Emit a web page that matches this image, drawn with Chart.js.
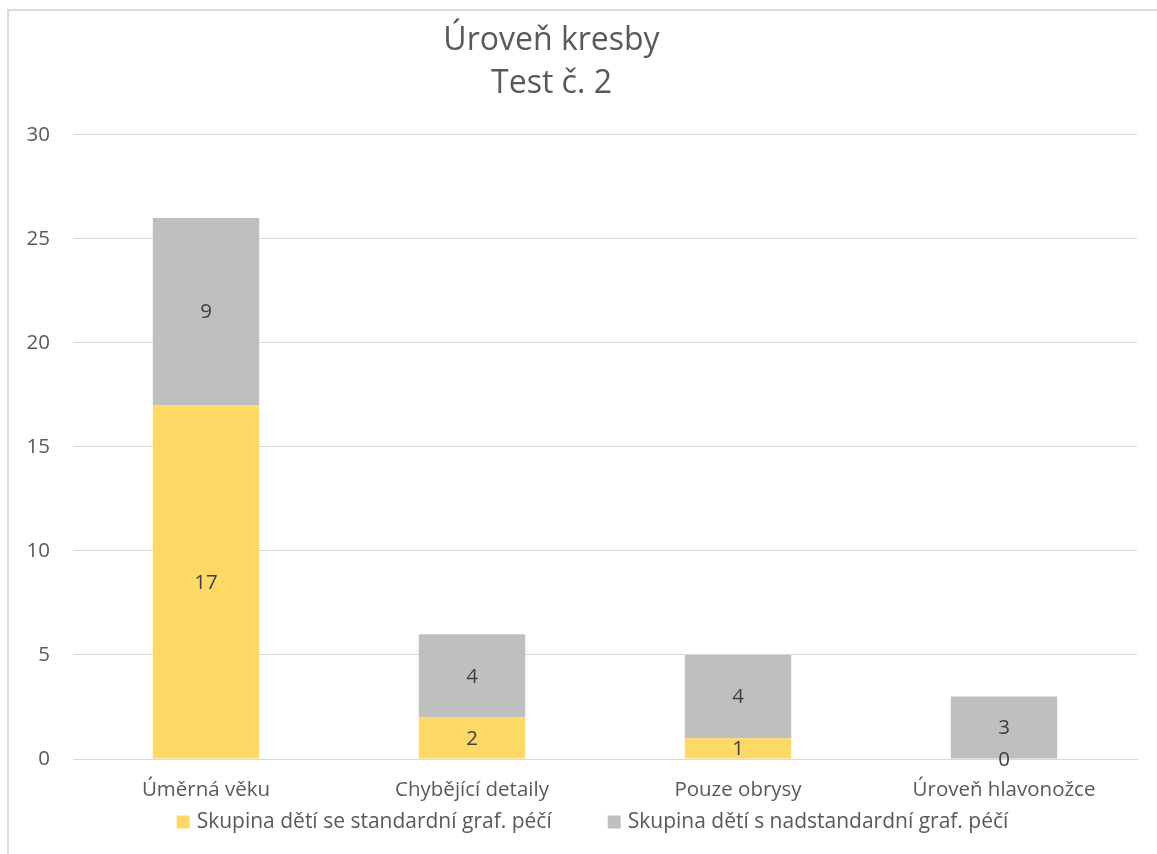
<!DOCTYPE html>
<html>
<head>
<meta charset="utf-8">
<script src="https://cdn.jsdelivr.net/npm/chart.js@4"></script>
<style>
  html, body { margin: 0; padding: 0; background: #fff; overflow: hidden; }
  #wrap { position: absolute; left: 0; top: 0; width: 1157px; height: 854px; }
  #frame { position: absolute; left: 7px; top: 9px; width: 1170px; height: 870px; border: 2px solid #DCDCDC; box-sizing: border-box; }
  canvas { position: absolute; left: 0; top: 0; }
</style>
</head>
<body>
<div id="wrap">
  <div id="frame"></div>
  <canvas id="c" width="1157" height="854"></canvas>
</div>
<script>
const titleLines = ['Úroveň kresby', 'Test č. 2'];
const categories = ['Úměrná věku', 'Chybějící detaily', 'Pouze obrysy', 'Úroveň hlavonožce'];
const seriesNames = ['Skupina dětí se standardní graf. péčí', 'Skupina dětí s nadstandardní graf. péčí'];
const standardValues = [17, 2, 1, 0];
const nadstandardValues = [9, 4, 4, 3];
const yTicks = [0, 5, 10, 15, 20, 25, 30];
const seriesColors = ['#FFD966', '#BFBFBF'];

const FONT = '"Open Sans", "Noto Sans", sans-serif';

const dataLabelPlugin = {
  id: 'dataLabels',
  afterDatasetsDraw(chart) {
    const ctx = chart.ctx;
    ctx.save();
    ctx.font = '20.5px ' + FONT;
    ctx.fillStyle = '#404040';
    ctx.textAlign = 'center';
    ctx.textBaseline = 'middle';
    chart.data.datasets.forEach((ds, di) => {
      const meta = chart.getDatasetMeta(di);
      meta.data.forEach((bar, i) => {
        const p = bar.getProps(['x', 'y', 'base'], true);
        const cy = (p.y + p.base) / 2;
        ctx.fillText(String(ds.data[i]), p.x, cy + 1);
      });
    });
    ctx.restore();
  }
};

const titleTextPlugin = {
  id: 'titleText',
  afterDraw(chart) {
    const ctx = chart.ctx;
    ctx.save();
    ctx.font = '32px ' + FONT;
    ctx.fillStyle = '#595959';
    ctx.textAlign = 'center';
    ctx.textBaseline = 'middle';
    const cx = chart.width / 2 - 27;
    titleLines.forEach((t, i) => ctx.fillText(t, cx, 41 + i * 43));
    ctx.restore();
  }
};

const bottomLegendPlugin = {
  id: 'bottomLegend',
  afterDraw(chart) {
    const ctx = chart.ctx;
    ctx.save();
    ctx.font = '21px ' + FONT;
    ctx.textBaseline = 'middle';
    ctx.textAlign = 'left';
    const box = 13, gapText = 7, gapItems = 56;
    const items = chart.data.datasets.map(ds => ({ text: ds.label, color: ds.backgroundColor, w: box + gapText + ctx.measureText(ds.label).width }));
    const total = items.reduce((a, it) => a + it.w, 0) + gapItems * (items.length - 1);
    const cx = chart.width / 2 + 14;
    const cy = 822;
    let x = cx - total / 2;
    items.forEach(it => {
      ctx.fillStyle = it.color;
      ctx.fillRect(x, cy - box / 2, box, box);
      ctx.fillStyle = '#595959';
      ctx.fillText(it.text, x + box + gapText, cy);
      x += it.w + gapItems;
    });
    ctx.restore();
  }
};

new Chart(document.getElementById('c'), {
  type: 'bar',
  data: {
    labels: categories,
    datasets: [
      { label: seriesNames[0], data: standardValues, backgroundColor: seriesColors[0], borderWidth: 0 },
      { label: seriesNames[1], data: nadstandardValues, backgroundColor: seriesColors[1], borderWidth: 0 }
    ]
  },
  options: {
    responsive: false,
    animation: false,
    devicePixelRatio: 1,
    layout: { padding: { left: 0, right: 20, top: 0, bottom: 0 } },
    datasets: { bar: { barPercentage: 1, categoryPercentage: 0.40 } },
    plugins: {
      title: {
        display: true,
        text: titleLines,
        color: 'rgba(0,0,0,0)',
        font: { family: FONT, size: 32, weight: 'normal', lineHeight: 1.34 },
        padding: { top: 18, bottom: 31 }
      },
      legend: { display: false },
      tooltip: { enabled: false }
    },
    scales: {
      x: {
        stacked: true,
        grid: { display: false, drawTicks: false },
        border: { display: true, color: '#D9D9D9', width: 1 },
        ticks: { color: '#595959', font: { family: FONT, size: 20.5 }, padding: 19, maxRotation: 0 },
        afterFit(s) { s.height = 95; }
      },
      y: {
        stacked: true,
        min: 0,
        max: 30,
        afterBuildTicks(s) { s.ticks = yTicks.map(v => ({ value: v })); },
        grid: { color: '#D9D9D9', lineWidth: 1, drawTicks: false },
        border: { display: false },
        ticks: { color: '#595959', font: { family: FONT, size: 20.5 }, padding: 23 },
        afterFit(s) { s.width = 73; }
      }
    }
  },
  plugins: [dataLabelPlugin, titleTextPlugin, bottomLegendPlugin]
});
</script>
</body>
</html>
